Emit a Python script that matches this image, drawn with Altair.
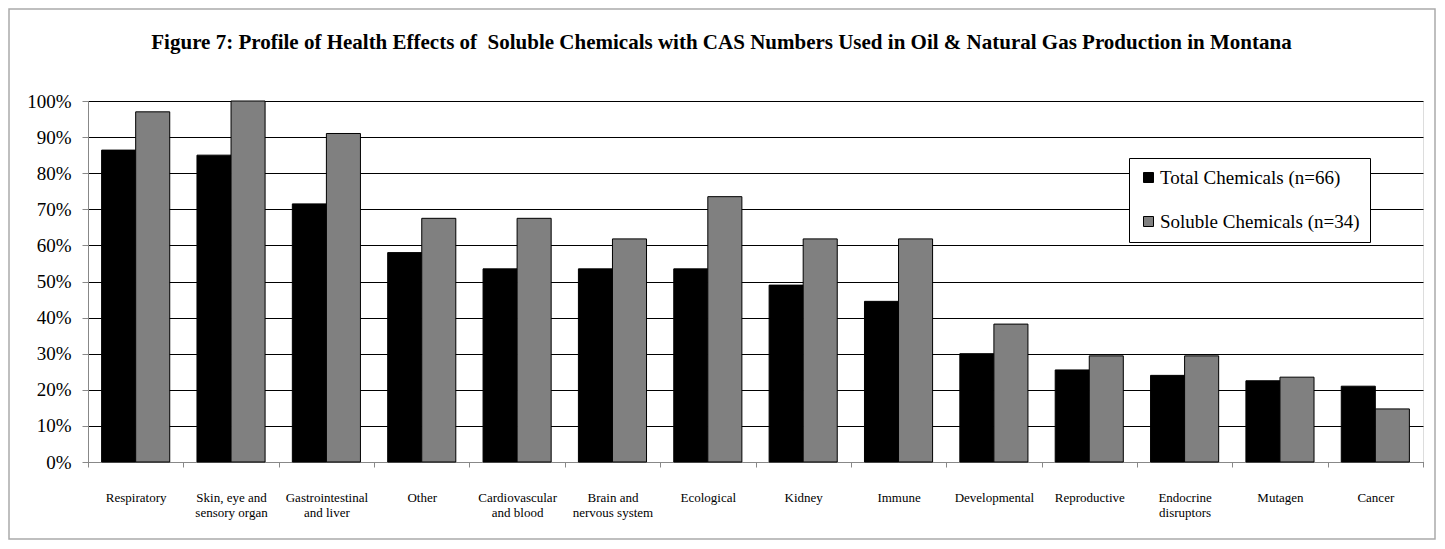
import altair as alt
import pandas as pd

categories = [
    "Respiratory", "Skin, eye and|sensory organ", "Gastrointestinal|and liver", "Other",
    "Cardiovascular|and blood", "Brain and|nervous system", "Ecological", "Kidney",
    "Immune", "Developmental", "Reproductive", "Endocrine|disruptors", "Mutagen", "Cancer",
]
series = ["Total Chemicals (n=66)", "Soluble Chemicals (n=34)"]
total_vals = [86.4, 85.0, 71.5, 58.0, 53.5, 53.5, 53.5, 49.0, 44.5, 30.0, 25.5, 24.0, 22.5, 21.0]
soluble_vals = [97.0, 100.0, 91.0, 67.5, 67.5, 61.8, 73.5, 61.8, 61.8, 38.2, 29.4, 29.4, 23.5, 14.7]

rows = []
for c, t, s in zip(categories, total_vals, soluble_vals):
    rows.append({"cat": c, "series": series[0], "value": t / 100})
    rows.append({"cat": c, "series": series[1], "value": s / 100})
df = pd.DataFrame(rows)

W, H = 1335, 361
FONT = "Liberation Serif"

bars = alt.Chart(df).mark_bar(stroke="black", strokeWidth=1).encode(
    x=alt.X("cat:N", sort=categories, title=None,
            scale=alt.Scale(paddingInner=0, paddingOuter=0),
            axis=alt.Axis(labelAngle=0, labelExpr="split(datum.label, '|')",
                          labelFont=FONT, labelFontSize=13, labelColor="black",
                          labelPadding=24, tickBand="extent", tickExtra=True,
                          tickColor="#888888", domainColor="#888888", tickSize=5,
                          labelLineHeight=15, grid=False)),
    xOffset=alt.XOffset("series:N", sort=series,
                        scale=alt.Scale(paddingInner=0, paddingOuter=0.4)),
    y=alt.Y("value:Q", title=None,
            scale=alt.Scale(domain=[0, 1]),
            axis=alt.Axis(format=".0%", values=[i / 10 for i in range(11)],
                          labelFont=FONT, labelFontSize=19, labelColor="black",
                          labelPadding=11, tickColor="#888888", domainColor="#888888",
                          tickSize=6, grid=True, gridColor="black", gridWidth=1,
                          gridOpacity=1)),
    color=alt.Color("series:N", sort=series,
                    scale=alt.Scale(domain=series, range=["#000000", "#808080"]),
                    legend=alt.Legend(title=None, orient="none", legendX=1041, legendY=57,
                                      fillColor="white", strokeColor="black",
                                      padding=10, rowPadding=24, symbolType="square",
                                      symbolSize=100, symbolStrokeColor="black",
                                      symbolStrokeWidth=1, labelOffset=2,
                                      labelFont=FONT, labelFontSize=19,
                                      labelColor="black", labelLimit=400)),
)

border = alt.Chart(pd.DataFrame({"a": [0]})).mark_rect(
    fill="transparent", stroke="#aaaaaa", strokeWidth=1.5
).encode(x=alt.value(-79), x2=alt.value(1347), y=alt.value(-92), y2=alt.value(438))

chart = alt.layer(border, bars).properties(
    width=W, height=H,
    autosize=alt.AutoSizeParams(type="none"),
    padding={"left": 80, "top": 93, "right": 14, "bottom": 79},
    title=alt.TitleParams(
        "Figure 7: Profile of Health Effects of \u00a0Soluble Chemicals with CAS Numbers Used in Oil & Natural Gas Production in Montana",
        font=FONT, fontSize=21, fontWeight="bold", color="black",
        anchor="middle", dx=-34, offset=-45),
).configure_view(fill="#f2f2f2", stroke="black", strokeWidth=1.5
).configure(background="white")

chart.save("out.html", embed_options={"renderer": "svg", "actions": False})
